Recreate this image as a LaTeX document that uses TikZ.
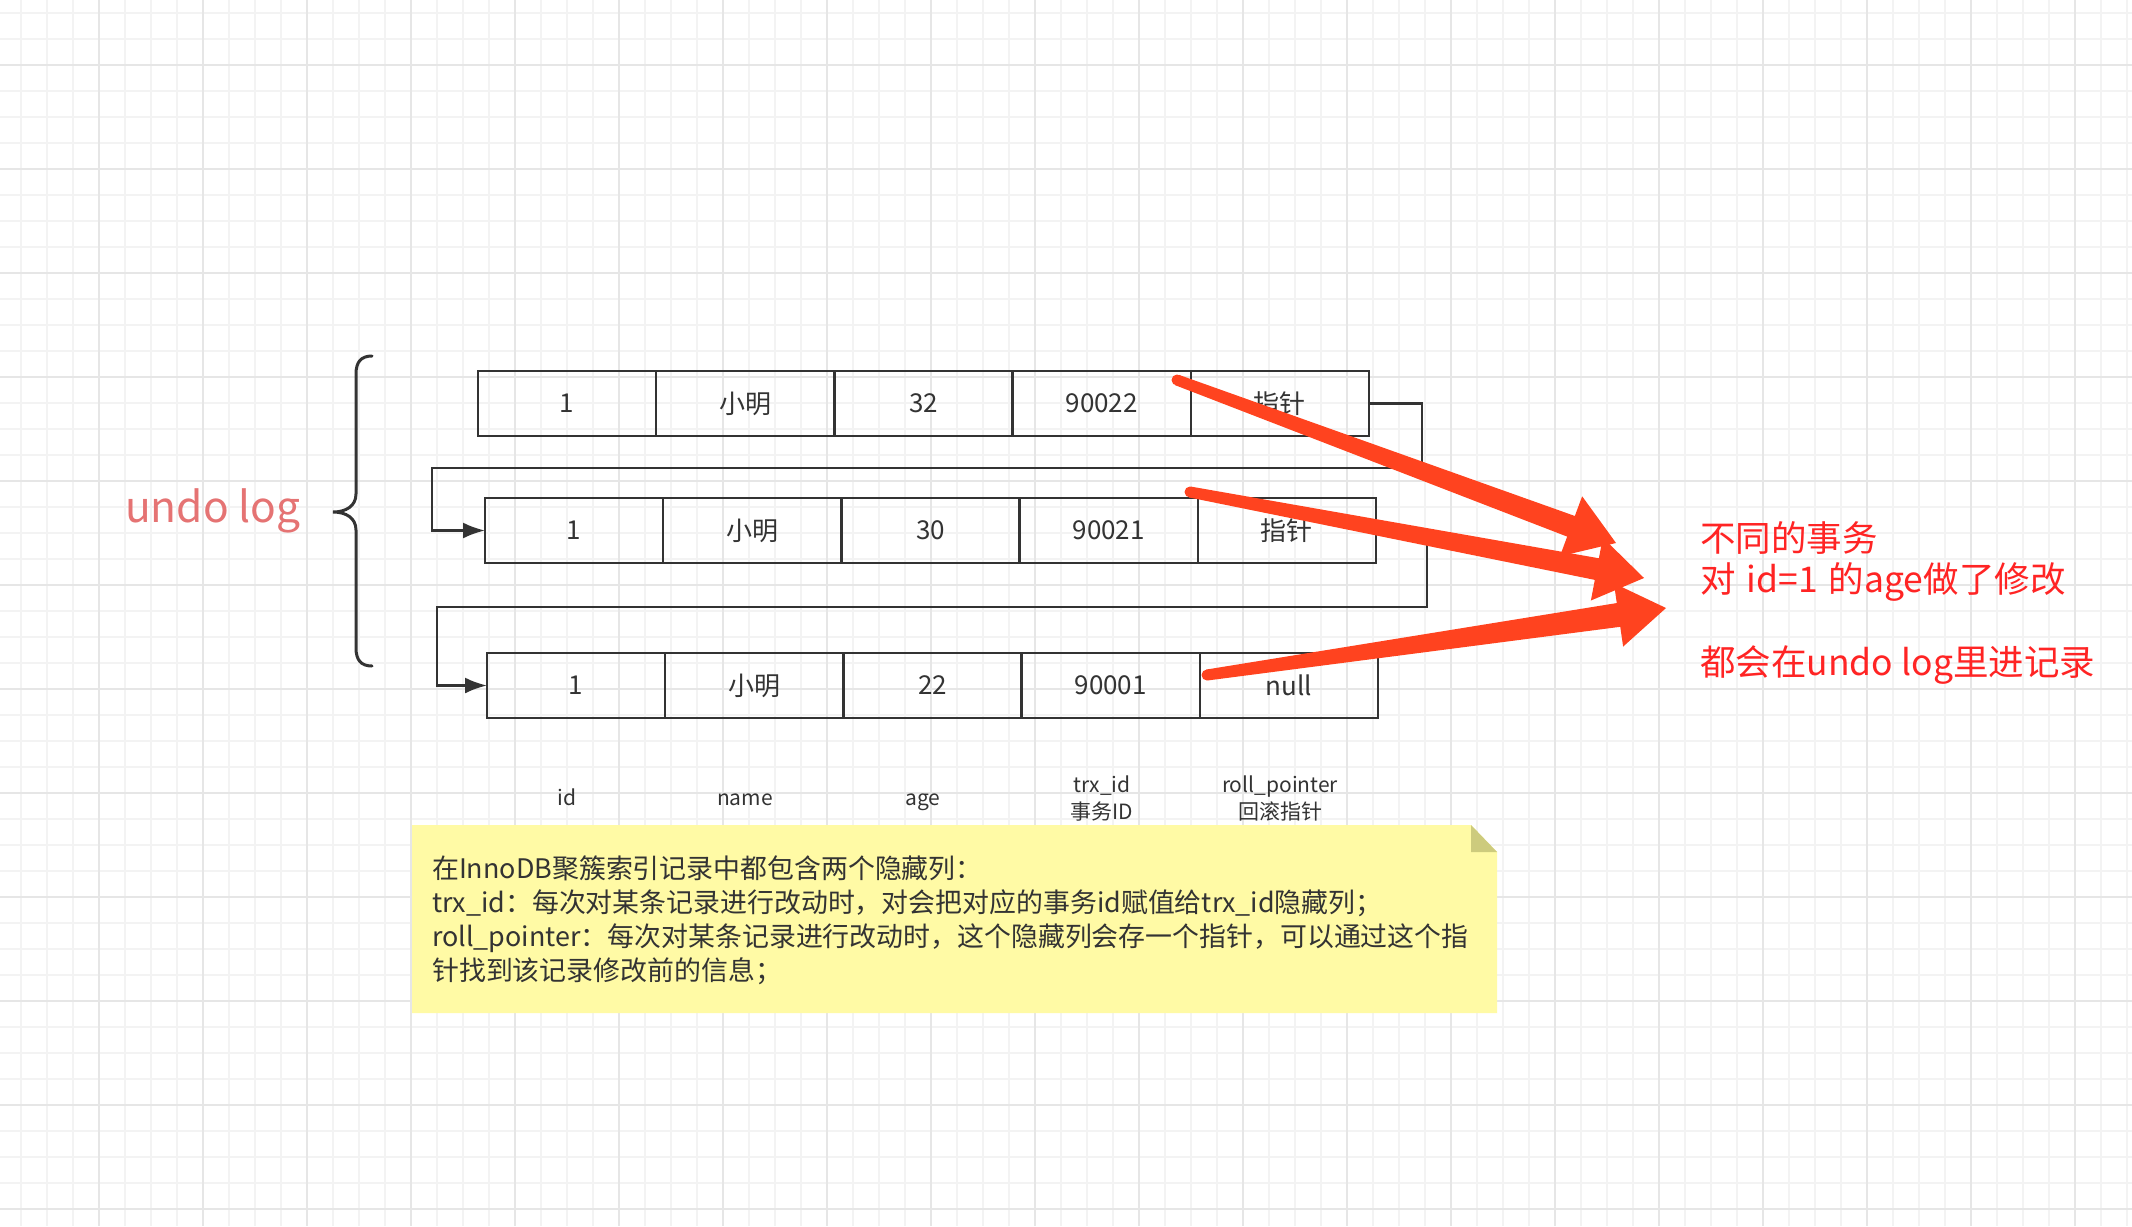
\documentclass[tikz,border=0pt]{standalone}
\usepackage{fontspec}
\setmainfont{Noto Sans CJK SC}
\usetikzlibrary{arrows.meta,calc}
\definecolor{gridminor}{RGB}{243,243,243}
\definecolor{gridmajor}{RGB}{230,230,230}
\definecolor{ink}{RGB}{51,51,51}
\definecolor{redarrow}{RGB}{255,67,31}
\definecolor{redtext}{RGB}{255,36,36}
\definecolor{undocol}{RGB}{229,115,115}
\definecolor{notefill}{RGB}{255,250,165}
\definecolor{notefold}{RGB}{205,203,125}
\newcommand\myredarrow[4]{%
  \coordinate (B) at ($(#2)!48pt!(#1)$);
  \fill[redarrow] ($(#1)!#3!90:(#2)$) -- ($(B)!#4!-90:(#1)$) -- ($(B)!32pt!-90:(#1)$) -- (#2)
     -- ($(B)!32pt!90:(#1)$) -- ($(B)!#4!90:(#1)$) -- ($(#1)!#3!-90:(#2)$) -- cycle;
  \fill[redarrow] (#1) circle (#3);
}
\begin{document}
\begin{tikzpicture}[x=1pt,y=-1pt,
  cell/.style={draw=ink, line width=2.5pt, minimum width=178.2pt, minimum height=65pt,
    inner sep=0pt, outer sep=0pt, anchor=west, font=\fontsize{26}{30}\selectfont, text=ink},
  conn/.style={draw=ink, line width=2.5pt, -{Latex[length=22pt,width=16pt]}},
  lbl/.style={font=\fontsize{21}{25}\selectfont, text=ink, inner sep=0pt, anchor=base},
  notetxt/.style={font=\fontsize{26.9}{32}\selectfont, text=ink, inner sep=0pt, anchor=base west},
  redtxt/.style={font=\fontsize{35.5}{41}\selectfont, text=redtext, inner sep=0pt, anchor=base west},
  gminor/.style={draw=gridminor, line width=1.6pt},
  gmajor/.style={draw=gridmajor, line width=1.8pt}]
\useasboundingbox (0,0) rectangle (2132,1226);
\fill[white] (0,0) rectangle (2132,1226);
% grid
\foreach \i in {0,...,81} \draw[gminor] ({21+26*\i},0) -- ({21+26*\i},1226);
\foreach \j in {0,...,46} \draw[gminor] (0,{13+26*\j}) -- (2132,{13+26*\j});
\foreach \i in {0,...,19} \draw[gmajor] ({99+104*\i},0) -- ({99+104*\i},1226);
\foreach \j in {0,...,11} \draw[gmajor] (0,{65+104*\j}) -- (2132,{65+104*\j});
% brace
\draw[ink, line width=3pt, line cap=round]
  (372,356) .. controls (361,356) and (356,362) .. (356,374) -- (356,494)
  .. controls (356,506) and (346,512) .. (333,512)
  .. controls (346,512) and (356,518) .. (356,530) -- (356,648)
  .. controls (356,660) and (361,666) .. (372,666);
\node[font=\fontsize{42.5}{48}\selectfont, text=undocol, inner sep=0pt, anchor=base west] (undo) at (125,522) {undo log};
% rows
\foreach \t [count=\i] in {1,小明,32,90022,指针}
  \node[cell] (r1c\i) at ({478+178.2*(\i-1)},403.5) {\t};
\foreach \t [count=\i] in {1,小明,30,90021,指针}
  \node[cell] (r2c\i) at ({485+178.2*(\i-1)},530.5) {\t};
\foreach \t [count=\i] in {1,小明,22,90001,null}
  \node[cell] (r3c\i) at ({487+178.2*(\i-1)},685.5) {\t};
% connectors
\coordinate (k1a) at (1422,468);
\coordinate (k1b) at (432,468);
\coordinate (k2a) at (1427,607);
\coordinate (k2b) at (437,607);
\draw[conn] (r1c5.east) -| (k1a) -- (k1b) |- (r2c1.west);
\draw[conn] (r2c5.east) -| (k2a) -- (k2b) |- (r3c1.west);
% column labels
\node[lbl] (lid) at (567,805) {id};
\node[lbl] (lname) at (745,805) {name};
\node[lbl] (lage) at (923,805) {age};
\node[lbl] (ltrx) at (1102,792) {trx\_id};
\node[lbl] (ltrx2) at (1102,819) {事务ID};
\node[lbl] (lroll) at (1280,792) {roll\_pointer};
\node[lbl] (lroll2) at (1280,819) {回滚指针};
% note
\fill[notefill] (412,825) -- (1471,825) -- (1497,852) -- (1497,1013) -- (412,1013) -- cycle;
\fill[notefold] (1471,825) -- (1471,852) -- (1497,852) -- cycle;
\node[notetxt] (n1) at (432,878) {在InnoDB聚簇索引记录中都包含两个隐藏列：};
\node[notetxt] (n2) at (432,912) {trx\_id：每次对某条记录进行改动时，对会把对应的事务id赋值给trx\_id隐藏列；};
\node[notetxt] (n3) at (432,946) {roll\_pointer：每次对某条记录进行改动时，这个隐藏列会存一个指针，可以通过这个指};
\node[notetxt] (n4) at (432,980) {针找到该记录修改前的信息；};
% red arrows
\coordinate (a1s) at (1177,380); \coordinate (a1t) at (1616,543);
\coordinate (a2s) at (1190,492); \coordinate (a2t) at (1644,578);
\coordinate (a3s) at (1207,675); \coordinate (a3t) at (1666,608);
\myredarrow{a1s}{a1t}{5.5pt}{11pt}
\myredarrow{a2s}{a2t}{5.5pt}{11pt}
\myredarrow{a3s}{a3t}{5.5pt}{12pt}
% red text
\node[redtxt] (rt1) at (1700,551) {不同的事务};
\node[redtxt] (rt2) at (1700,592.5) {对\hspace{0.31em}id=1\hspace{0.31em}的age做了修改};
\node[redtxt] (rt3) at (1700,675) {都会在undo log里进记录};
\end{tikzpicture}
\end{document}
